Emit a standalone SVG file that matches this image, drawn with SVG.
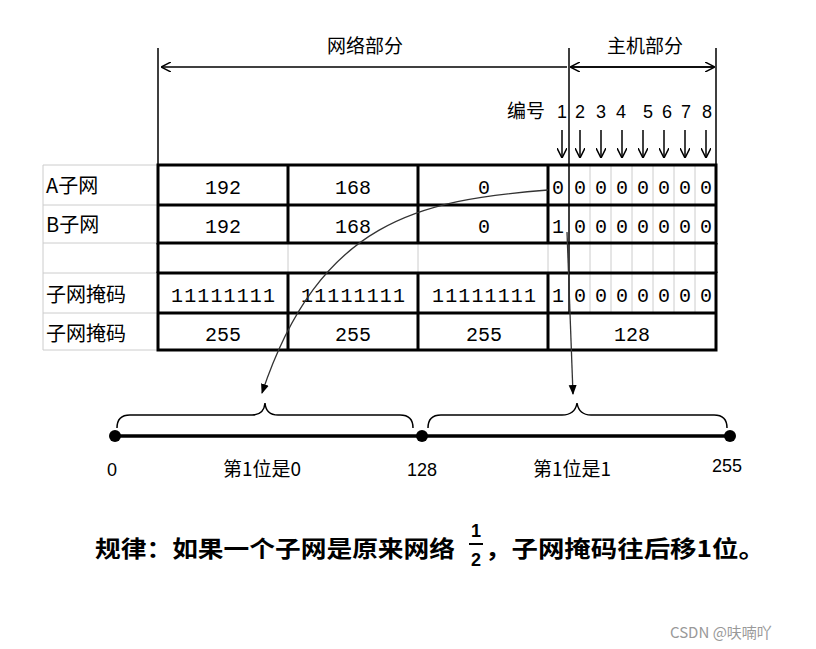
<svg xmlns="http://www.w3.org/2000/svg" width="816" height="649" viewBox="0 0 816 649">
<style>
.t{font-family:"Liberation Mono","Noto Sans CJK SC",monospace;font-size:20px;fill:#000;text-anchor:middle}
.c{font-family:"Noto Sans CJK SC",sans-serif;font-size:19px;fill:#000;text-anchor:middle}
.l{font-family:"Noto Sans CJK SC",sans-serif;font-size:20px;fill:#000}
.s{font-family:"Liberation Sans","Noto Sans CJK SC",sans-serif;font-size:18px;fill:#000;text-anchor:middle}
.thick{stroke:#000;stroke-width:3;fill:none}
.thin{stroke:#ccc;stroke-width:1;fill:none}
.ln{stroke:#000;stroke-width:1.5;fill:none}
</style>
<defs>
<marker id="ah" markerWidth="10" markerHeight="10" refX="9" refY="5" orient="auto" markerUnits="userSpaceOnUse"><path d="M0,0 L10,5 L0,10" fill="none" stroke="#000" stroke-width="1.5"/></marker>
<marker id="af" markerWidth="10" markerHeight="10" refX="9" refY="5" orient="auto" markerUnits="userSpaceOnUse"><path d="M0,1 L10,5 L0,9 z" fill="#000"/></marker>
</defs>
<rect width="816" height="649" fill="#fff"/>
<g id="header">
<text class="c" x="365" y="53">网络部分</text>
<text class="c" x="645" y="53">主机部分</text>
<text class="c" x="526" y="118" font-size="20">编号</text>
<g class="s" font-size="20">
<text x="562" y="118">1</text><text x="580" y="118">2</text><text x="601" y="118">3</text><text x="621" y="118">4</text><text x="648" y="118">5</text><text x="667" y="118">6</text><text x="686" y="118">7</text><text x="707" y="118">8</text>
</g>
</g>
<g id="table">
<g class="thin">
<path d="M43,165 H158 M43,205 H158 M43,243 H716 M43,273 H158 M43,313 H158 M43,350 H158 M43,165 V350"/>
<path d="M288,243 V273 M418,243 V273 M548,243 V273 M590,165 V313 M611,165 V313 M632,165 V313 M653,165 V313 M674,165 V313 M695,165 V313"/>
</g>
<g class="thick">
<rect x="158" y="165" width="558" height="78"/>
<path d="M158,205 H716 M288,165 V243 M418,165 V243 M548,165 V243"/>
<rect x="158" y="273" width="558" height="77"/>
<path d="M158,313 H716 M288,273 V350 M418,273 V350 M548,273 V350 M158,243 V273 M716,243 V273"/>
</g>
<text class="l" x="46" y="193">A子网</text>
<text class="l" x="46" y="232">B子网</text>
<text class="l" x="46" y="302" font-size="21">子网掩码</text>
<text class="l" x="46" y="341" font-size="21">子网掩码</text>
<text class="t" x="223" y="194">192</text><text class="t" x="353" y="194">168</text><text class="t" x="484" y="194">0</text>
<text class="t" x="223" y="233">192</text><text class="t" x="353" y="233">168</text><text class="t" x="484" y="233">0</text>
<text class="t" x="223" y="302" textLength="104">11111111</text><text class="t" x="353" y="302" textLength="104">11111111</text><text class="t" x="484" y="302" textLength="104">11111111</text>
<text class="t" x="223" y="341">255</text><text class="t" x="353" y="341">255</text><text class="t" x="484" y="341">255</text>
<text class="t" x="632" y="341">128</text>
<g class="t">
<text x="558" y="194">0</text><text x="580" y="194">0</text><text x="601" y="194">0</text><text x="622" y="194">0</text><text x="643" y="194">0</text><text x="664" y="194">0</text><text x="685" y="194">0</text><text x="706" y="194">0</text>
<text x="558" y="233">1</text><text x="580" y="233">0</text><text x="601" y="233">0</text><text x="622" y="233">0</text><text x="643" y="233">0</text><text x="664" y="233">0</text><text x="685" y="233">0</text><text x="706" y="233">0</text>
<text x="558" y="302">1</text><text x="580" y="302">0</text><text x="601" y="302">0</text><text x="622" y="302">0</text><text x="643" y="302">0</text><text x="664" y="302">0</text><text x="685" y="302">0</text><text x="706" y="302">0</text>
</g>
</g>
<g id="connectors">
<path class="ln" d="M158,48 V165 M716,48 V165 M569,48 V313"/>
<path class="ln" d="M567,67 H162" marker-end="url(#ah)"/>
<path class="ln" d="M571,67 H714" marker-end="url(#ah)"/>
<path class="ln" d="M714,67 H571" marker-end="url(#ah)"/>
<g class="ln">
<path d="M562,130 V157" marker-end="url(#ah)"/><path d="M580,130 V157" marker-end="url(#ah)"/><path d="M601,130 V157" marker-end="url(#ah)"/><path d="M622,130 V157" marker-end="url(#ah)"/><path d="M643,130 V157" marker-end="url(#ah)"/><path d="M664,130 V157" marker-end="url(#ah)"/><path d="M685,130 V157" marker-end="url(#ah)"/><path d="M706,130 V157" marker-end="url(#ah)"/>
</g>
<path d="M548,190 C420,200 320,220 262,393" fill="none" stroke="#333" stroke-width="1.3" marker-end="url(#af)"/>
<path d="M567,232 L573,394" fill="none" stroke="#333" stroke-width="1.3" marker-end="url(#af)"/>
<path d="M115,436 H730" stroke="#000" stroke-width="3.5"/>
<circle cx="115" cy="436" r="6"/><circle cx="422" cy="436" r="6"/><circle cx="730" cy="436" r="6"/>
<path class="ln" d="M117,428 Q117,415 130,415 H252 Q264,415 265,403 Q266,415 278,415 H400 Q413,415 413,428"/>
<path class="ln" d="M428,428 Q428,415 441,415 H562 Q575,415 577,403 Q579,415 591,415 H714 Q727,415 727,428"/>
</g>
<g id="labels">
<text class="s" x="112" y="476" font-size="17">0</text>
<text class="c" x="262" y="476" font-size="17">第1位是0</text>
<text class="s" x="422" y="476" font-size="17">128</text>
<text class="c" x="572" y="476" font-size="17">第1位是1</text>
<text class="s" x="727" y="472" font-size="17">255</text>
<text x="95" y="557" font-family="'Noto Sans CJK SC',sans-serif" font-size="23" font-weight="bold" textLength="360" lengthAdjust="spacingAndGlyphs">规律：如果一个子网是原来网络</text>
<text x="476" y="537" class="s" font-size="18" font-weight="bold">1</text>
<path d="M469,544 H483" stroke="#000" stroke-width="2"/>
<text x="476" y="566" class="s" font-size="18" font-weight="bold">2</text>
<text x="485" y="557" font-family="'Noto Sans CJK SC',sans-serif" font-size="23" font-weight="bold" textLength="280" lengthAdjust="spacingAndGlyphs">，子网掩码往后移1位。</text>
<text x="670" y="638" font-family="'Noto Sans CJK SC',sans-serif" font-size="15" fill="#999">CSDN @呋喃吖</text>
</g>
</svg>
